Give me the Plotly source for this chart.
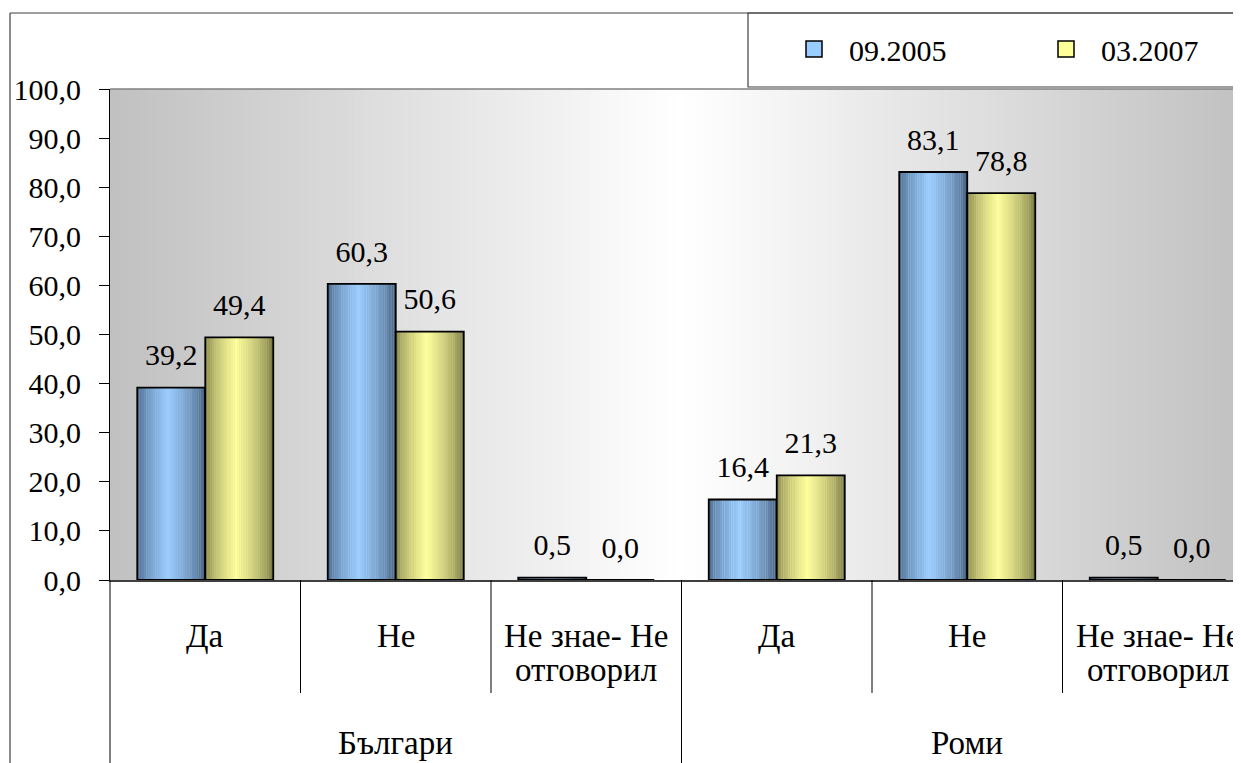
import plotly.graph_objects as go

# ---------------- data ----------------
groups = ["Българи", "Роми"]
answers = ["Да", "Не", "Не знае- Не\nотговорил"]
series_names = ["09.2005", "03.2007"]
values_2005 = [39.2, 60.3, 0.5, 16.4, 83.1, 0.5]
values_2007 = [49.4, 50.6, 0.0, 21.3, 78.8, 0.0]
y_ticks = [0, 10, 20, 30, 40, 50, 60, 70, 80, 90, 100]

# ---------------- style / layout ----------------
OFF = 8                      # default page body margin
SCR_W, SCR_H = 1241, 763     # screen size
W, H = SCR_W - OFF, SCR_H - OFF
PLOT_L, PLOT_T, PLOT_B = 110, 89, 580   # screen pixels of plot area
ML = PLOT_L - OFF
MT = PLOT_T - OFF
MB = H - (PLOT_B - OFF)
PLOT_W = W - ML
PLOT_H = PLOT_B - PLOT_T
CAT_PX = 190.5
N_CAT = len(groups) * len(answers)
X_END = -0.5 + PLOT_W / CAT_PX
FONT = "'Liberation Serif', 'DejaVu Serif', serif"
FS = 30
FS_CAT = 33

BAR_W = 0.357
offsets = [-BAR_W, 0.0]
gradients = [
    ((66, 96, 130), (153, 204, 255), (60, 84, 112)),    # blue: left dark, light, right dark
    ((122, 122, 66), (255, 255, 153), (104, 104, 56)),  # yellow
]
legend_colors = ["#99ccff", "#ffff99"]
PEAK = 0.45
N_STRIPS = 30


def grad_color(t, cols):
    left, light, right = cols
    if t < PEAK:
        f = (t / PEAK) ** 0.6
        base = left
    else:
        f = ((1 - t) / (1 - PEAK)) ** 0.6
        base = right
    c = [int(round(b + f * (l - b))) for b, l in zip(base, light)]
    return "rgb(%d,%d,%d)" % tuple(c)


def px_x(p):  # screen pixel -> paper x
    return (p - PLOT_L) / PLOT_W


def px_y(p):  # screen pixel -> paper y
    return (PLOT_B - p) / PLOT_H


x_pos = list(range(N_CAT))
series_values = [values_2005, values_2007]

fig = go.Figure()

# gradient bars made of narrow strips
for s, vals in enumerate(series_values):
    sw = BAR_W / N_STRIPS
    for k in range(N_STRIPS):
        t = (k + 0.5) / N_STRIPS
        fig.add_trace(go.Bar(
            x=x_pos, y=vals, width=sw * 1.05, offset=offsets[s] + k * sw,
            marker=dict(color=grad_color(t, gradients[s]), line=dict(width=0)),
            showlegend=False, hoverinfo="skip",
        ))
    # outline
    fig.add_trace(go.Bar(
        x=x_pos, y=vals, width=BAR_W, offset=offsets[s],
        marker=dict(color="rgba(0,0,0,0)", line=dict(color="black", width=1.8)),
        showlegend=False, name=series_names[s],
    ))

# data labels
for s, vals in enumerate(series_values):
    fig.add_trace(go.Scatter(
        x=[x + offsets[s] + BAR_W / 2 for x in x_pos], y=vals,
        mode="markers+text", texttemplate="%{y:.1f}", textposition="top center",
        marker=dict(size=22, color="rgba(0,0,0,0)"),
        textfont=dict(family=FONT, size=FS, color="black"),
        showlegend=False, hoverinfo="skip", cliponaxis=False,
    ))

# legend entries
for s in range(2):
    fig.add_trace(go.Scatter(
        x=[None], y=[None], mode="markers", name="\u00a0\u00a0" + series_names[s],
        marker=dict(symbol="square", size=17, color=legend_colors[s],
                    line=dict(color="black", width=1.5)),
    ))

shapes = []
# background gradient gray -> white -> gray
NB = 120
for i in range(NB):
    x0 = -0.5 + (X_END + 0.5) * i / NB
    x1 = -0.5 + (X_END + 0.5) * (i + 1) / NB
    u = ((x0 + x1) / 2 + 0.5) / N_CAT
    g = int(round(192 + 63 * (1 - abs(u - 0.5) / 0.5)))
    shapes.append(dict(type="rect", xref="x", yref="paper", x0=x0, x1=x1 + 0.01,
                       y0=0, y1=1, fillcolor="rgb(%d,%d,%d)" % (g, g, g),
                       line=dict(width=0), layer="below"))
# plot top border
shapes.append(dict(type="line", xref="paper", yref="paper", x0=0, x1=1.05, y0=1, y1=1,
                   line=dict(color="#808080", width=1.5)))
# outer chart border
shapes.append(dict(type="line", xref="paper", yref="paper", x0=px_x(10), x1=px_x(10),
                   y0=px_y(13), y1=px_y(SCR_H + 20), line=dict(color="#404040", width=1.2)))
shapes.append(dict(type="line", xref="paper", yref="paper", x0=px_x(10), x1=px_x(SCR_W + 20),
                   y0=px_y(13), y1=px_y(13), line=dict(color="#404040", width=1.2)))
# legend box
shapes.append(dict(type="rect", xref="paper", yref="paper", x0=px_x(748), x1=px_x(SCR_W + 20),
                   y0=px_y(87), y1=px_y(13), line=dict(color="#404040", width=1.2)))
# category dividers
for b in range(N_CAT - 1):
    xb = b + 0.5
    if (b + 1) % len(answers) == 0:
        y1 = px_y(SCR_H + 20)
    else:
        y1 = px_y(693)
    shapes.append(dict(type="line", xref="x", yref="paper", x0=xb, x1=xb, y0=0, y1=y1,
                       line=dict(color="black", width=1)))
shapes.append(dict(type="line", xref="paper", yref="paper", x0=0, x1=0, y0=0,
                   y1=px_y(SCR_H + 20), line=dict(color="black", width=1)))

annotations = []
for gi, g in enumerate(groups):
    for ai, a in enumerate(answers):
        xc = gi * len(answers) + ai
        for li, line in enumerate(a.split("\n")):
            annotations.append(dict(x=xc, y=px_y(636 + 34 * li), xref="x", yref="paper",
                                    text=line, showarrow=False, xanchor="center",
                                    yanchor="middle",
                                    font=dict(family=FONT, size=FS_CAT, color="black")))
    annotations.append(dict(x=gi * len(answers) + (len(answers) - 1) / 2, y=px_y(743),
                            xref="x", yref="paper", text=g, showarrow=False,
                            xanchor="center", yanchor="middle",
                            font=dict(family=FONT, size=FS_CAT, color="black")))

fig.update_layout(
    width=W, height=H,
    margin=dict(l=ML, r=0, t=MT, b=MB, pad=0, autoexpand=False),
    paper_bgcolor="white", plot_bgcolor="white",
    barmode="overlay",
    separators=", ",
    font=dict(family=FONT, size=FS, color="black"),
    shapes=shapes, annotations=annotations,
    showlegend=True,
    legend=dict(orientation="h", x=px_x(794), y=px_y(49), xanchor="left", yanchor="middle",
                entrywidth=207, entrywidthmode="pixels", bgcolor="rgba(0,0,0,0)",
                font=dict(family=FONT, size=FS, color="black"), itemclick=False),
    xaxis=dict(range=[-0.5, X_END], showgrid=False, zeroline=False, showticklabels=False,
               ticks="", showline=True, linecolor="#404040", linewidth=1.5, fixedrange=True),
    yaxis=dict(range=[0, 100], tickvals=y_ticks, tickformat=".1f", showgrid=False,
               zeroline=False, ticks="outside", ticklen=10, tickcolor="black",
               showline=True, linecolor="black", linewidth=1.2, ticklabelstandoff=12,
               tickfont=dict(family=FONT, size=FS, color="black"), fixedrange=True),
)

fig.write_html("out.html")
